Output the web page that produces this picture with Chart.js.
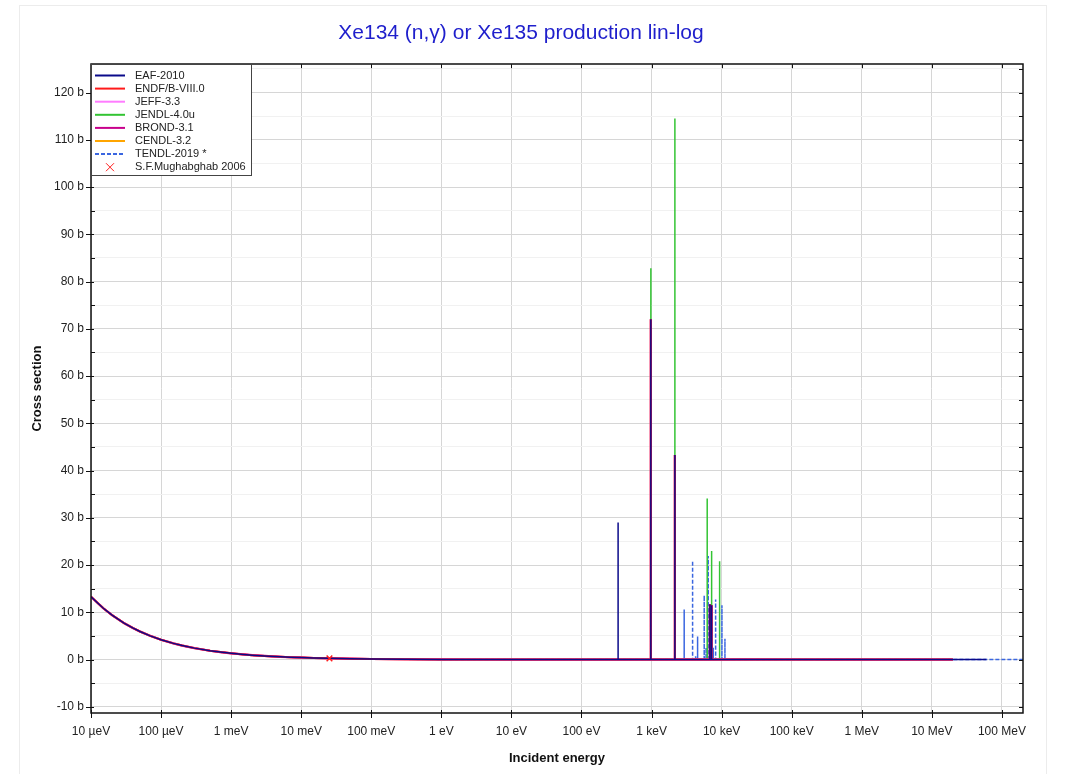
<!DOCTYPE html>
<html>
<head>
<meta charset="utf-8">
<script src="https://cdn.jsdelivr.net/npm/chart.js@4.4.1/dist/chart.umd.min.js"></script>
<style>
    html, body { margin: 0; padding: 0; background: #fff; overflow: hidden; }
    #panel { position: absolute; left: 19px; top: 5px; width: 1026px; height: 800px; border: 1px solid #ececec; }
    #wrap { position: absolute; left: 0; top: 0; width: 1067px; height: 774px; }
</style>
</head>
<body>
<div id="panel"></div>
<div id="wrap"><canvas id="xsChart"></canvas></div>
<script>
// x tick positions (eV) and their labels
const xTickValues = [1e-5, 1e-4, 1e-3, 1e-2, 1e-1, 1, 10, 100, 1e3, 1e4, 1e5, 1e6, 1e7, 1e8];
const xTickLabels = ["10 µeV", "100 µeV", "1 meV", "10 meV", "100 meV", "1 eV", "10 eV",
    "100 eV", "1 keV", "10 keV", "100 keV", "1 MeV", "10 MeV", "100 MeV"];

// smooth 1/v part, shared by all evaluations (eV, barn)
const thermalE = [1e-5, 1.5e-5, 2e-5, 3e-5, 4e-5, 5e-5, 7e-5, 1e-4, 1.5e-4, 2e-4, 3e-4, 5e-4, 7e-4,
    1e-3, 1.5e-3, 2e-3, 3e-3, 5e-3, 7e-3, 1e-2, 0.015, 0.0253, 0.05, 0.1, 0.3, 1, 3, 10, 30, 100, 300];
const thermalXS = [13.3, 10.86, 9.4, 7.68, 6.65, 5.95, 5.03, 4.21, 3.43, 2.97, 2.43, 1.88, 1.59,
    1.33, 1.09, 0.94, 0.77, 0.59, 0.5, 0.42, 0.34, 0.265, 0.19, 0.13, 0.077, 0.042, 0.025, 0.014, 0.009, 0.006, 0.005];

// fast region
const fastE = [2e4, 1e5, 1e6, 2e7, 6e7, 2e8];
const fastXS = [0.03, 0.02, 0.005, 0.001, 0.001, 0.001];
const resBackground = 0.005;

// resolved resonances (eV, barn at peak)
const eafResE = [333, 977, 2152, 6808, 7197];
const eafResXS = [29.0, 72.0, 43.3, 11.7, 11.5];
const evalResE = [977, 2152, 6808, 7197];
const evalResXS = [72.0, 43.3, 11.7, 11.5];
const jendlResE = [977, 2152, 6224, 7197, 9357];
const jendlResXS = [82.8, 114.5, 34.1, 23.0, 20.8];
const tendlResE = [2922, 3852, 4253, 4540, 5641, 6000, 6436, 6900, 7600, 8208, 10100, 11150];
const tendlResXS = [10.6, 20.9, 0.7, 4.9, 13.6, 2.5, 21.9, 3.0, 2.5, 12.7, 11.5, 4.4];

// upper energy limit of each library
const eafMax = 6e7;
const evalMax = 2e7;
const tendlMax = 2e8;

// measured thermal value
const mughabghabE = [0.0253];
const mughabghabXS = [0.265];

const FONT = '"Liberation Sans", Arial, sans-serif';

function buildSeries(resE, resXS, eMax) {
    const pts = [];
    thermalE.forEach((e, i) => pts.push({ x: e, y: thermalXS[i] }));
    resE.forEach((e, i) => {
        pts.push({ x: e * 0.9995, y: resBackground });
        pts.push({ x: e, y: resXS[i] });
        pts.push({ x: e * 1.0005, y: resBackground });
    });
    fastE.forEach((e, i) => {
        if (e <= eMax) pts.push({ x: e, y: fastXS[i] });
    });
    return pts;
}

function lineSet(label, color, width, order, pts, dash) {
    return {
        label: label,
        data: pts,
        borderColor: color,
        backgroundColor: color,
        borderWidth: width,
        borderDash: dash || [],
        pointRadius: 0,
        tension: 0,
        fill: false,
        order: order,
    };
}

const datasets = [
    lineSet("EAF-2010", "#0a0a8a", 1.5, 1, buildSeries(eafResE, eafResXS, eafMax)),
    lineSet("ENDF/B-VIII.0", "#ff1a1a", 2, 2, buildSeries(evalResE, evalResXS, evalMax)),
    lineSet("JEFF-3.3", "#ff7cff", 2, 3, buildSeries(evalResE, evalResXS, evalMax)),
    lineSet("JENDL-4.0u", "#33c433", 1.5, 6, buildSeries(jendlResE, jendlResXS, evalMax)),
    lineSet("BROND-3.1", "#c8008c", 2.2, 4, buildSeries(evalResE, evalResXS, evalMax)),
    lineSet("CENDL-3.2", "#ffa500", 2, 5, buildSeries(evalResE, evalResXS, evalMax)),
    lineSet("TENDL-2019 *", "#3a66e0", 1.5, 7, buildSeries(tendlResE, tendlResXS, tendlMax), [4, 2]),
    {
        label: "S.F.Mughabghab 2006",
        data: mughabghabE.map((e, i) => ({ x: e, y: mughabghabXS[i] })),
        showLine: false,
        pointStyle: "crossRot",
        pointRadius: 4,
        borderColor: "#ff2020",
        backgroundColor: "#ff2020",
        borderWidth: 1.5,
        order: 0,
    },
];

// frame with ticks on all four sides
const framePlugin = {
    id: "frame",
    afterDatasetsDraw(chart) {
        const ctx = chart.ctx;
        const a = chart.chartArea;
        const xs = chart.scales.x;
        const ys = chart.scales.y;
        ctx.save();
        ctx.strokeStyle = "#111";
        ctx.lineWidth = 1;
        ctx.beginPath();
        xTickValues.forEach((v) => {
            const px = Math.round(xs.getPixelForValue(v)) + 0.5;
            ctx.moveTo(px, a.bottom - 3);
            ctx.lineTo(px, a.bottom + 5);
            ctx.moveTo(px, a.top);
            ctx.lineTo(px, a.top + 4);
        });
        for (let v = -10; v <= 125; v += 5) {
            const py = Math.round(ys.getPixelForValue(v)) + 0.5;
            if (v % 10 === 0) {
                ctx.moveTo(a.left - 5, py);
                ctx.lineTo(a.left + 3, py);
            } else {
                ctx.moveTo(a.left, py);
                ctx.lineTo(a.left + 4, py);
            }
            ctx.moveTo(a.right - 4, py);
            ctx.lineTo(a.right, py);
        }
        ctx.stroke();
        ctx.lineWidth = 1.5;
        ctx.strokeRect(Math.round(a.left), Math.round(a.top), Math.round(a.right - a.left), Math.round(a.bottom - a.top));
        ctx.restore();
    },
};

// boxed legend in the top-left corner of the plot
const legendPlugin = {
    id: "boxLegend",
    afterDraw(chart) {
        const ctx = chart.ctx;
        const a = chart.chartArea;
        const x0 = Math.round(a.left);
        const y0 = Math.round(a.top);
        ctx.save();
        ctx.fillStyle = "#fff";
        ctx.fillRect(x0, y0, 160, 111);
        ctx.strokeStyle = "#444";
        ctx.lineWidth = 1;
        ctx.strokeRect(x0 + 0.5, y0 + 0.5, 160, 111);
        ctx.font = "11px " + FONT;
        ctx.textBaseline = "middle";
        chart.data.datasets.forEach((ds, i) => {
            const y = y0 + 11.5 + i * 13.1;
            ctx.strokeStyle = ds.borderColor;
            if (ds.showLine === false) {
                ctx.lineWidth = 1;
                ctx.beginPath();
                ctx.moveTo(x0 + 15, y - 4);
                ctx.lineTo(x0 + 23, y + 4);
                ctx.moveTo(x0 + 23, y - 4);
                ctx.lineTo(x0 + 15, y + 4);
                ctx.stroke();
            } else {
                ctx.lineWidth = 2;
                ctx.setLineDash(ds.borderDash);
                ctx.beginPath();
                ctx.moveTo(x0 + 4, y);
                ctx.lineTo(x0 + 34, y);
                ctx.stroke();
                ctx.setLineDash([]);
            }
            ctx.fillStyle = "#222";
            ctx.fillText(ds.label, x0 + 44, y);
        });
        ctx.restore();
    },
};

new Chart(document.getElementById("xsChart"), {
    type: "line",
    data: { datasets: datasets },
    plugins: [framePlugin, legendPlugin],
    options: {
        responsive: true,
        maintainAspectRatio: false,
        animation: false,
        layout: { padding: { left: 19, right: 44, top: 0, bottom: 0 } },
        plugins: {
            legend: { display: false },
            tooltip: { enabled: false },
            title: {
                display: true,
                text: "Xe134 (n,γ) or Xe135 production lin-log",
                color: "#1f1fcc",
                font: { size: 21, family: FONT, weight: "normal" },
                padding: { top: 21, bottom: 18 },
            },
        },
        scales: {
            x: {
                type: "logarithmic",
                min: 1e-5,
                max: 2e8,
                afterBuildTicks: (scale) => {
                    scale.ticks = xTickValues.map((v) => ({ value: v }));
                },
                afterFit: (scale) => {
                    scale.height = 61;
                },
                ticks: {
                    autoSkip: false,
                    maxRotation: 0,
                    padding: 11,
                    color: "#222",
                    font: { size: 12, family: FONT },
                    callback: (value, index) => xTickLabels[index],
                },
                grid: { color: "#d6d6d6", drawTicks: false },
                border: { display: false },
                title: {
                    display: true,
                    text: "Incident energy",
                    color: "#111",
                    font: { size: 13, weight: "bold", family: FONT },
                    padding: { top: 0, bottom: 8 },
                },
            },
            y: {
                type: "linear",
                min: -11.3,
                max: 126,
                afterBuildTicks: (scale) => {
                    const t = [];
                    for (let v = -10; v <= 125; v += 5) t.push({ value: v });
                    scale.ticks = t;
                },
                afterFit: (scale) => {
                    scale.width = 72;
                },
                ticks: {
                    autoSkip: false,
                    padding: 7,
                    color: "#222",
                    font: { size: 12, family: FONT },
                    callback: (value) => (value % 10 === 0 ? value + " b" : ""),
                },
                grid: {
                    drawTicks: false,
                    color: (ctx) => (ctx.tick && ctx.tick.value % 10 === 0 ? "#d6d6d6" : "#f1f1f1"),
                },
                border: { display: false },
                title: {
                    display: true,
                    text: "Cross section",
                    color: "#111",
                    font: { size: 13, weight: "bold", family: FONT },
                    padding: { top: 11, bottom: 0 },
                },
            },
        },
    },
});
</script>
</body>
</html>
